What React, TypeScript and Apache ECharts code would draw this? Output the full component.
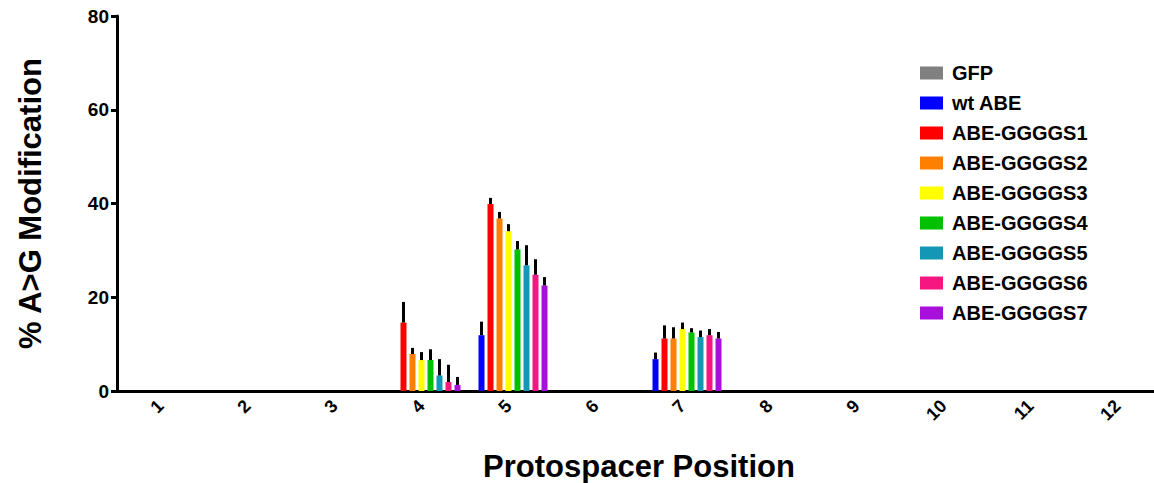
import React, { useEffect, useRef } from "react";
import * as echarts from "echarts";

const categories = ["1", "2", "3", "4", "5", "6", "7", "8", "9", "10", "11", "12"];
const yTicks = [0, 20, 40, 60, 80];

const seriesNames = [
  "GFP",
  "wt ABE",
  "ABE-GGGGS1",
  "ABE-GGGGS2",
  "ABE-GGGGS3",
  "ABE-GGGGS4",
  "ABE-GGGGS5",
  "ABE-GGGGS6",
  "ABE-GGGGS7",
];
const seriesColors = [
  "#808080",
  "#0000FF",
  "#FF0000",
  "#FF8000",
  "#FFFF00",
  "#00C000",
  "#1298B4",
  "#F5167F",
  "#A80FDC",
];

// mean values per protospacer position 1..12
const gfp = [0, 0, 0, 0, 0, 0, 0, 0, 0, 0, 0, 0];
const wtAbe = [0, 0, 0, 0, 11.9, 0, 6.8, 0, 0, 0, 0, 0];
const ggggs1 = [0, 0, 0, 14.6, 39.9, 0, 11.2, 0, 0, 0, 0, 0];
const ggggs2 = [0, 0, 0, 7.9, 36.8, 0, 11.2, 0, 0, 0, 0, 0];
const ggggs3 = [0, 0, 0, 6.6, 34.1, 0, 13.2, 0, 0, 0, 0, 0];
const ggggs4 = [0, 0, 0, 6.6, 30.2, 0, 12.5, 0, 0, 0, 0, 0];
const ggggs5 = [0, 0, 0, 3.3, 26.8, 0, 11.5, 0, 0, 0, 0, 0];
const ggggs6 = [0, 0, 0, 1.9, 24.8, 0, 11.9, 0, 0, 0, 0, 0];
const ggggs7 = [0, 0, 0, 1.3, 22.5, 0, 11.2, 0, 0, 0, 0, 0];

// upper error (SD) per position
const gfpErr = [0, 0, 0, 0, 0, 0, 0, 0, 0, 0, 0, 0];
const wtAbeErr = [0, 0, 0, 0, 2.9, 0, 1.4, 0, 0, 0, 0, 0];
const ggggs1Err = [0, 0, 0, 4.4, 1.3, 0, 2.8, 0, 0, 0, 0, 0];
const ggggs2Err = [0, 0, 0, 1.3, 1.4, 0, 2.4, 0, 0, 0, 0, 0];
const ggggs3Err = [0, 0, 0, 1.7, 1.5, 0, 1.4, 0, 0, 0, 0, 0];
const ggggs4Err = [0, 0, 0, 2.3, 1.8, 0, 0.9, 0, 0, 0, 0, 0];
const ggggs5Err = [0, 0, 0, 3.5, 4.3, 0, 1.4, 0, 0, 0, 0, 0];
const ggggs6Err = [0, 0, 0, 3.7, 3.3, 0, 1.3, 0, 0, 0, 0, 0];
const ggggs7Err = [0, 0, 0, 1.7, 1.8, 0, 1.4, 0, 0, 0, 0, 0];

const allValues = [gfp, wtAbe, ggggs1, ggggs2, ggggs3, ggggs4, ggggs5, ggggs6, ggggs7];
const allErrors = [gfpErr, wtAbeErr, ggggs1Err, ggggs2Err, ggggs3Err, ggggs4Err, ggggs5Err, ggggs6Err, ggggs7Err];

const FONT = "'Liberation Sans', Arial, sans-serif";
const BAR_W = 6;
const BAR_STEP = 9;

export default function App() {
  const ref = useRef<HTMLDivElement>(null);

  useEffect(() => {
    if (!ref.current) return;
    const chart = echarts.init(ref.current, null, { renderer: "svg" });

    const errData: number[][] = [];
    allValues.forEach((vals, si) => {
      vals.forEach((v, ci) => {
        const e = allErrors[si][ci];
        if (e > 0) errData.push([ci, v, e, si]);
      });
    });
    const mid = (seriesNames.length - 1) / 2;

    const barSeries = seriesNames.map((name, i) => ({
      name,
      type: "bar",
      data: allValues[i],
      barWidth: BAR_W,
      barGap: "50%",
      itemStyle: { color: seriesColors[i] },
      z: 2,
    }));

    const option: any = {
      animation: false,
      backgroundColor: "#ffffff",
      grid: {
        left: 117,
        right: -7,
        top: 16,
        bottom: 92,
        containLabel: false,
        outerBoundsMode: "none",
      },
      legend: {
        data: seriesNames,
        orient: "vertical",
        left: 915,
        top: 58,
        itemWidth: 23,
        itemHeight: 13,
        itemGap: 10,
        icon: "rect",
        selectedMode: false,
        textStyle: {
          fontFamily: FONT,
          fontWeight: "bold",
          fontSize: 20,
          color: "#000",
          padding: [0, 0, 0, 4],
        },
      },
      xAxis: {
        type: "category",
        data: categories,
        name: "Protospacer Position",
        nameLocation: "middle",
        nameGap: 60,
        nameMoveOverlap: false,
        nameTextStyle: { fontFamily: FONT, fontWeight: "bold", fontSize: 31, color: "#000" },
        axisLine: { lineStyle: { color: "#000", width: 3 } },
        axisTick: { alignWithLabel: true, length: 6, lineStyle: { color: "#000", width: 3 } },
        axisLabel: {
          rotate: 45,
          margin: 12,
          fontFamily: FONT,
          fontWeight: "bold",
          fontSize: 18,
          color: "#000",
        },
        splitLine: { show: false },
      },
      yAxis: {
        type: "value",
        min: yTicks[0],
        max: yTicks[yTicks.length - 1],
        interval: 20,
        name: "% A>G Modification",
        nameLocation: "middle",
        nameGap: 71,
        nameMoveOverlap: false,
        nameTextStyle: { fontFamily: FONT, fontWeight: "bold", fontSize: 31, color: "#000" },
        axisLine: { show: true, lineStyle: { color: "#000", width: 3 } },
        axisTick: { show: true, length: 6, lineStyle: { color: "#000", width: 3 } },
        axisLabel: { margin: 8, fontFamily: FONT, fontWeight: "bold", fontSize: 19, color: "#000" },
        splitLine: { show: false },
      },
      series: [
        ...barSeries,
        {
          type: "custom",
          name: "err",
          z: 3,
          data: errData,
          encode: { x: 0, y: 1 },
          renderItem: (params: any, api: any) => {
            const c = api.value(0);
            const v = api.value(1);
            const e = api.value(2);
            const si = api.value(3);
            const p0 = api.coord([c, v]);
            const p1 = api.coord([c, v + e]);
            const x = p0[0] + (si - mid) * BAR_STEP;
            return {
              type: "line",
              shape: { x1: x, y1: p0[1], x2: x, y2: p1[1] },
              style: { stroke: "#000", lineWidth: 3 },
            };
          },
        },
      ],
    };

    chart.setOption(option);
    return () => chart.dispose();
  }, []);

  return (
    <div
      ref={ref}
      style={{ position: "absolute", left: 0, top: 0, width: 1154, height: 483, background: "#fff" }}
    />
  );
}
